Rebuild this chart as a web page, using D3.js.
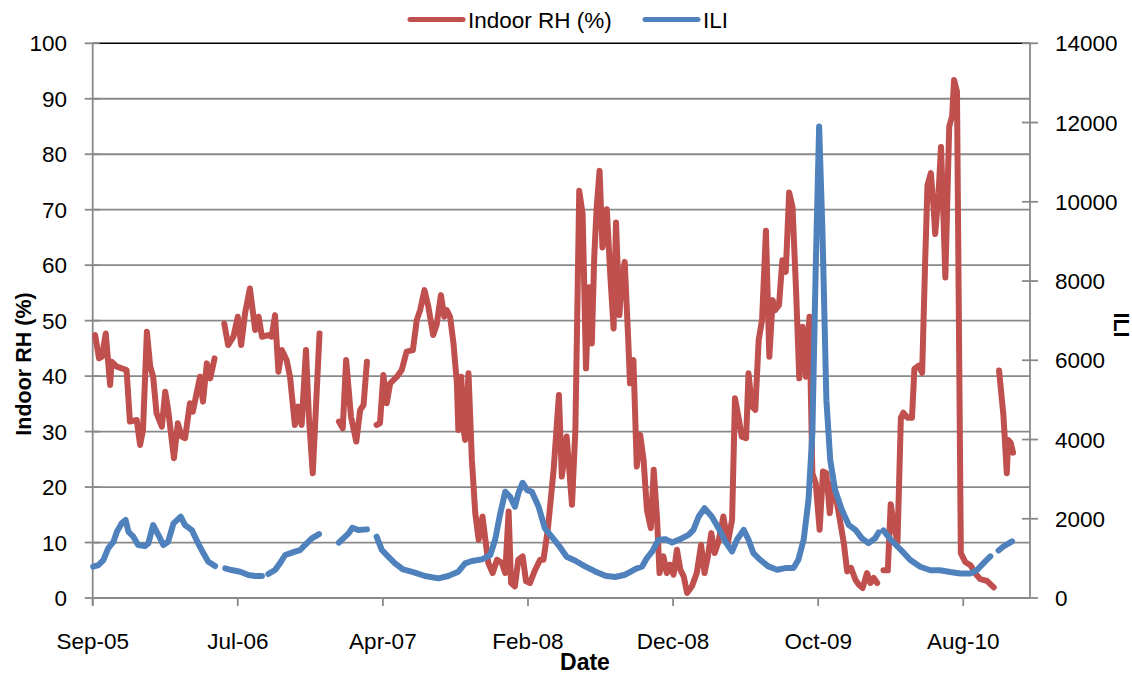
<!DOCTYPE html>
<html>
<head>
<meta charset="utf-8">
<script src="https://cdn.jsdelivr.net/npm/d3@7"></script>
<style>
  html, body { margin: 0; padding: 0; background: #fff; }
  svg { display: block; font-family: "Liberation Sans", Arial, sans-serif; }
</style>
</head>
<body>
<svg id="chart" width="1132" height="674"></svg>
<script>
// Weekly indoor relative humidity (%), null marks missing weeks
const indoorRH = [
  ["2005-09-09",47.4],["2005-09-17",43.2],["2005-09-23",43.5],["2005-10-01",47.7],["2005-10-10",38.4],
  ["2005-10-13",42.6],["2005-10-24",41.7],["2005-11-03",41.4],["2005-11-13",41.1],["2005-11-20",31.8],
  ["2005-12-04",32.1],["2005-12-11",27.6],["2005-12-17",30.3],["2005-12-25",48.0],["2006-01-01",41.7],
  ["2006-01-07",39.9],["2006-01-14",33.3],["2006-01-25",30.9],["2006-02-01",37.2],["2006-02-07",33.9],
  ["2006-02-19",25.2],["2006-02-27",31.5],["2006-03-07",29.1],["2006-03-14",28.8],["2006-03-24",35.1],
  ["2006-03-30",33.6],["2006-04-14",39.9],["2006-04-20",35.4],["2006-04-28",42.3],["2006-05-05",39.6],
  ["2006-05-14",43.2],["2006-05-24",null],["2006-06-03",49.5],["2006-06-11",45.6],["2006-06-22",47.1],
  ["2006-07-01",50.7],["2006-07-08",45.6],["2006-07-16",51.3],["2006-07-26",55.8],["2006-08-06",48.3],
  ["2006-08-13",50.7],["2006-08-20",47.1],["2006-09-02",47.4],["2006-09-09",47.1],["2006-09-16",51.0],
  ["2006-09-23",40.8],["2006-09-30",44.7],["2006-10-10",42.9],["2006-10-17",39.9],["2006-10-27",31.2],
  ["2006-11-03",34.5],["2006-11-10",31.2],["2006-11-19",44.7],["2006-11-25",32.7],["2006-12-03",22.5],
  ["2006-12-10",35.1],["2006-12-17",47.7],["2007-01-06",null],["2007-01-26",31.8],["2007-02-03",30.6],
  ["2007-02-10",42.9],["2007-02-20",32.7],["2007-03-03",28.2],["2007-03-11",33.9],["2007-03-18",34.8],
  ["2007-03-25",42.6],["2007-04-04",null],["2007-04-14",31.2],["2007-04-21",31.5],["2007-04-28",40.2],
  ["2007-05-05",35.1],["2007-05-12",38.7],["2007-05-26",39.9],["2007-06-05",41.1],["2007-06-15",44.4],
  ["2007-06-28",44.7],["2007-07-06",50.1],["2007-07-13",51.9],["2007-07-22",55.5],["2007-07-30",52.5],
  ["2007-08-09",47.4],["2007-08-16",49.2],["2007-08-25",54.6],["2007-09-01",50.7],["2007-09-06",51.9],
  ["2007-09-13",50.7],["2007-09-20",45.9],["2007-09-27",38.7],["2007-09-30",30.3],["2007-10-06",39.9],
  ["2007-10-11",30.3],["2007-10-14",28.5],["2007-10-21",40.5],["2007-10-28",24.9],["2007-11-04",15.3],
  ["2007-11-11",10.5],["2007-11-19",14.7],["2007-11-24",11.1],["2007-12-01",6.3],["2007-12-10",4.5],
  ["2007-12-19",6.9],["2007-12-29",6.3],["2008-01-05",4.5],["2008-01-12",15.6],["2008-01-17",2.7],
  ["2008-01-25",2.1],["2008-02-01",6.9],["2008-02-10",7.5],["2008-02-17",3.0],["2008-02-25",2.7],
  ["2008-03-07",5.1],["2008-03-17",6.9],["2008-03-24",6.9],["2008-04-02",12.3],["2008-04-14",23.1],
  ["2008-04-25",36.6],["2008-05-01",21.9],["2008-05-11",29.1],["2008-05-22",16.8],["2008-05-29",30.3],
  ["2008-06-06",73.4],["2008-06-13",69.2],["2008-06-20",41.4],["2008-06-26",56.0],["2008-07-02",45.9],
  ["2008-07-07",61.5],["2008-07-12",70.4],["2008-07-18",77.0],["2008-07-24",63.2],["2008-08-02",70.1],
  ["2008-08-09",58.5],["2008-08-16",48.6],["2008-08-21",67.7],["2008-08-28",51.0],["2008-09-01",56.7],
  ["2008-09-08",60.6],["2008-09-15",47.1],["2008-09-19",38.7],["2008-09-26",42.9],["2008-10-03",23.7],
  ["2008-10-10",29.4],["2008-10-17",24.9],["2008-10-24",15.9],["2008-11-01",12.6],["2008-11-07",23.1],
  ["2008-11-14",14.1],["2008-11-19",4.5],["2008-11-27",7.5],["2008-12-04",4.5],["2008-12-11",6.0],
  ["2008-12-18",4.2],["2008-12-25",8.7],["2009-01-01",5.1],["2009-01-08",3.9],["2009-01-15",0.9],
  ["2009-01-25",2.1],["2009-02-04",4.5],["2009-02-13",9.6],["2009-02-20",4.5],["2009-02-27",7.5],
  ["2009-03-06",11.7],["2009-03-13",8.1],["2009-03-21",10.2],["2009-03-31",14.7],["2009-04-09",9.9],
  ["2009-04-18",14.1],["2009-04-24",36.0],["2009-05-01",32.7],["2009-05-08",29.1],["2009-05-17",28.8],
  ["2009-05-22",40.5],["2009-05-29",34.5],["2009-06-05",33.9],["2009-06-12",46.5],["2009-06-19",50.1],
  ["2009-06-27",66.2],["2009-07-04",43.5],["2009-07-11",53.7],["2009-07-16",51.9],["2009-07-24",52.8],
  ["2009-07-31",60.9],["2009-08-07",58.8],["2009-08-14",73.1],["2009-08-21",70.4],["2009-08-28",56.1],
  ["2009-09-04",39.6],["2009-09-11",48.9],["2009-09-18",39.9],["2009-09-25",50.7],["2009-10-01",22.5],
  ["2009-10-08",20.7],["2009-10-16",12.3],["2009-10-23",22.8],["2009-10-30",22.5],["2009-11-06",15.3],
  ["2009-11-12",20.7],["2009-11-21",17.1],["2009-11-28",13.5],["2009-12-05",9.9],["2009-12-12",4.8],
  ["2009-12-20",5.4],["2009-12-29",3.3],["2010-01-05",2.4],["2010-01-13",1.8],["2010-01-22",4.5],
  ["2010-01-29",2.7],["2010-02-05",3.6],["2010-02-12",2.7],["2010-02-19",null],["2010-02-25",5.0],
  ["2010-03-06",5.0],["2010-03-12",16.9],["2010-03-19",13.1],["2010-03-26",10.0],["2010-04-02",32.5],
  ["2010-04-07",33.4],["2010-04-16",32.5],["2010-04-25",32.5],["2010-04-30",41.3],["2010-05-09",41.9],
  ["2010-05-16",40.6],["2010-05-22",60.0],["2010-05-27",74.4],["2010-06-03",76.6],["2010-06-09",70.0],
  ["2010-06-12",65.6],["2010-06-19",73.1],["2010-06-24",81.3],["2010-06-29",68.8],["2010-07-03",57.8],
  ["2010-07-08",75.0],["2010-07-11",85.0],["2010-07-17",86.9],["2010-07-21",93.4],["2010-07-27",91.3],
  ["2010-08-04",8.1],["2010-08-13",6.5],["2010-08-24",5.9],["2010-09-03",4.4],["2010-09-13",3.4],
  ["2010-09-27",3.1],["2010-10-11",1.9],["2010-10-16",null],["2010-10-22",41.0],["2010-10-31",33.0],
  ["2010-11-07",22.5],["2010-11-10",28.5],["2010-11-15",28.0],["2010-11-20",26.2]
];

// Weekly influenza-like illness counts, null marks missing weeks
const ili = [
  ["2005-09-05",790],["2005-09-16",832],["2005-09-26",958],["2005-10-06",1253],["2005-10-17",1420],
  ["2005-10-24",1672],["2005-11-03",1884],["2005-11-11",1968],["2005-11-17",1672],["2005-11-27",1547],
  ["2005-12-07",1337],["2005-12-21",1312],["2005-12-28",1379],["2006-01-07",1841],["2006-01-18",1589],
  ["2006-01-28",1337],["2006-02-07",1420],["2006-02-18",1884],["2006-03-05",2051],["2006-03-14",1841],
  ["2006-03-28",1715],["2006-04-10",1379],["2006-04-21",1127],["2006-05-01",916],["2006-05-15",806],
  ["2006-05-25",null],["2006-06-05",748],["2006-06-18",706],["2006-07-06",664],["2006-07-23",580],
  ["2006-08-06",555],["2006-08-20",555],["2006-08-27",null],["2006-09-02",605],["2006-09-16",706],
  ["2006-09-26",874],["2006-10-07",1085],["2006-10-17",1127],["2006-10-27",1169],["2006-11-07",1211],
  ["2006-11-17",1337],["2006-12-01",1505],["2006-12-16",1614],["2007-01-06",null],["2007-01-26",1396],
  ["2007-02-04",1505],["2007-02-15",1631],["2007-02-23",1774],["2007-03-07",1715],["2007-03-25",1732],
  ["2007-04-04",null],["2007-04-14",1547],["2007-04-25",1211],["2007-05-08",1043],["2007-05-22",874],
  ["2007-06-08",720],["2007-07-02",639],["2007-07-23",555],["2007-08-20",496],["2007-09-09",555],
  ["2007-09-30",664],["2007-10-14",874],["2007-10-28",933],["2007-11-18",975],["2007-12-05",1085],
  ["2007-12-15",1463],["2007-12-25",2094],["2008-01-05",2682],["2008-01-15",2556],["2008-01-25",2303],
  ["2008-02-01",2640],["2008-02-10",2909],["2008-02-19",2724],["2008-02-29",2682],["2008-03-14",2303],
  ["2008-03-27",1757],["2008-04-10",1547],["2008-04-24",1337],["2008-05-11",1043],["2008-05-29",940],
  ["2008-06-18",797],["2008-07-09",671],["2008-07-30",562],["2008-08-19",529],["2008-09-09",588],
  ["2008-09-30",730],["2008-10-14",797],["2008-10-24",1007],["2008-11-04",1175],["2008-11-17",1469],
  ["2008-12-01",1486],["2008-12-15",1402],["2009-01-01",1486],["2009-01-18",1595],["2009-01-28",1721],
  ["2009-02-08",2057],["2009-02-20",2266],["2009-03-07",2057],["2009-03-21",1763],["2009-04-04",1427],
  ["2009-04-18",1175],["2009-04-28",1469],["2009-05-12",1721],["2009-05-22",1469],["2009-06-01",1133],
  ["2009-06-15",965],["2009-07-02",797],["2009-07-20",713],["2009-08-06",755],["2009-08-23",755],
  ["2009-09-02",965],["2009-09-13",1469],["2009-09-23",2476],["2009-10-01",4154],["2009-10-08",8352],
  ["2009-10-15",11900],["2009-10-22",9191],["2009-10-30",4993],["2009-11-07",3482],["2009-11-17",2727],
  ["2009-12-01",2224],["2009-12-15",1847],["2009-12-29",1721],["2010-01-11",1511],["2010-01-25",1385],
  ["2010-02-08",1511],["2010-02-15",1653],["2010-02-20",null],["2010-02-25",1706],["2010-03-11",1488],
  ["2010-03-25",1313],["2010-04-08",1138],["2010-04-21",963],["2010-05-12",788],["2010-06-02",700],
  ["2010-06-22",700],["2010-07-13",656],["2010-08-03",620],["2010-08-24",620],["2010-09-06",700],
  ["2010-09-23",919],["2010-10-04",1050],["2010-10-12",null],["2010-10-21",1200],["2010-10-31",1300],
  ["2010-11-18",1430]
];

// Axis settings
const dateRange = ["2005-09-04", "2010-12-25"];
const tickStepDays = 300;
const rhTicks = [0, 10, 20, 30, 40, 50, 60, 70, 80, 90, 100];
const iliTicks = [0, 2000, 4000, 6000, 8000, 10000, 12000, 14000];
const seriesNames = ["Indoor RH (%)", "ILI"];
const seriesColors = ["#C0504D", "#4F81BD"];

const parse = d3.utcParse("%Y-%m-%d");
const fmt = d3.utcFormat("%b-%y");

const svg = d3.select("#chart");
const W = 1132, H = 674;
const plot = { left: 92.7, right: 1030, top: 43.3, bottom: 598 };
const fontSize = 22.5;
const capOffset = fontSize * 0.358;
const gridColor = "#898989";

svg.append("rect").attr("width", W).attr("height", H).attr("fill", "#fff");

const x = d3.scaleUtc()
  .domain(dateRange.map(parse))
  .range([plot.left, plot.right]);
const yRH = d3.scaleLinear().domain([0, 100]).range([plot.bottom, plot.top]);
const yILI = d3.scaleLinear().domain([0, 14000]).range([plot.bottom, plot.top]);

const xTicks = d3.range(0, 7).map(i => d3.utcDay.offset(parse(dateRange[0]), i * tickStepDays));

// Horizontal gridlines
svg.append("g").selectAll("line")
  .data(rhTicks.filter(t => t > 0 && t < 100))
  .join("line")
  .attr("x1", plot.left).attr("x2", plot.right)
  .attr("y1", d => yRH(d)).attr("y2", d => yRH(d))
  .attr("stroke", gridColor).attr("stroke-width", 1.8);

// Top border
svg.append("line")
  .attr("x1", plot.left).attr("x2", plot.right)
  .attr("y1", yRH(100)).attr("y2", yRH(100))
  .attr("stroke", "#000").attr("stroke-width", 1.6);

// Left axis
const gL = svg.append("g");
gL.append("line").attr("x1", plot.left).attr("x2", plot.left)
  .attr("y1", plot.top).attr("y2", plot.bottom + 7)
  .attr("stroke", gridColor).attr("stroke-width", 1.8);
gL.selectAll(".t").data(rhTicks).join("line")
  .attr("x1", plot.left - 8).attr("x2", plot.left + 7)
  .attr("y1", d => yRH(d)).attr("y2", d => yRH(d))
  .attr("stroke", gridColor).attr("stroke-width", 1.8);
gL.selectAll("text").data(rhTicks).join("text")
  .attr("x", 67).attr("y", d => yRH(d) + capOffset)
  .attr("text-anchor", "end").attr("font-size", fontSize).attr("fill", "#000")
  .text(d => d);

// Right axis
const gR = svg.append("g");
gR.append("line").attr("x1", plot.right).attr("x2", plot.right)
  .attr("y1", plot.top).attr("y2", plot.bottom)
  .attr("stroke", gridColor).attr("stroke-width", 1.8);
gR.selectAll(".t").data(iliTicks).join("line")
  .attr("x1", plot.right - 8).attr("x2", plot.right + 8)
  .attr("y1", d => yILI(d)).attr("y2", d => yILI(d))
  .attr("stroke", gridColor).attr("stroke-width", 1.8);
gR.selectAll("text").data(iliTicks).join("text")
  .attr("x", 1055).attr("y", d => yILI(d) + capOffset)
  .attr("text-anchor", "start").attr("font-size", fontSize).attr("fill", "#000")
  .text(d => d);

// Bottom axis
const gB = svg.append("g");
gB.append("line").attr("x1", plot.left).attr("x2", plot.right)
  .attr("y1", plot.bottom).attr("y2", plot.bottom)
  .attr("stroke", gridColor).attr("stroke-width", 1.8);
gB.selectAll(".t").data(xTicks).join("line")
  .attr("x1", d => x(d)).attr("x2", d => x(d))
  .attr("y1", plot.bottom).attr("y2", plot.bottom + 8)
  .attr("stroke", gridColor).attr("stroke-width", 1.8);
gB.selectAll("text").data(xTicks).join("text")
  .attr("x", d => x(d)).attr("y", 649)
  .attr("text-anchor", "middle").attr("font-size", fontSize).attr("fill", "#000")
  .text(d => fmt(d));

// Axis titles
svg.append("text")
  .attr("transform", "translate(31,364) rotate(-90)")
  .attr("text-anchor", "middle").attr("font-size", 21.5).attr("font-weight", "bold")
  .text("Indoor RH (%)");
svg.append("text")
  .attr("transform", "translate(1114,325) rotate(90)")
  .attr("text-anchor", "middle").attr("font-size", 21.5).attr("font-weight", "bold")
  .text("ILI");
svg.append("text")
  .attr("x", 585).attr("y", 670)
  .attr("text-anchor", "middle").attr("font-size", 23).attr("font-weight", "bold")
  .text("Date");

// Series lines
function drawSeries(data, yScale, color) {
  const line = d3.line()
    .defined(d => d[1] !== null)
    .x(d => x(parse(d[0])))
    .y(d => yScale(d[1]));
  svg.append("path")
    .datum(data)
    .attr("d", line)
    .attr("fill", "none")
    .attr("stroke", color)
    .attr("stroke-width", 6)
    .attr("stroke-linejoin", "round")
    .attr("stroke-linecap", "round");
}
drawSeries(indoorRH, yRH, seriesColors[0]);
drawSeries(ili, yILI, seriesColors[1]);

// Legend
const legend = [
  { name: seriesNames[0], color: seriesColors[0], x0: 410, x1: 463, tx: 468 },
  { name: seriesNames[1], color: seriesColors[1], x0: 645, x1: 698, tx: 703 }
];
const gLeg = svg.append("g");
legend.forEach(l => {
  gLeg.append("line")
    .attr("x1", l.x0).attr("x2", l.x1).attr("y1", 19.5).attr("y2", 19.5)
    .attr("stroke", l.color).attr("stroke-width", 5).attr("stroke-linecap", "round");
  gLeg.append("text")
    .attr("x", l.tx).attr("y", 19.5 + capOffset)
    .attr("font-size", fontSize).attr("fill", "#000")
    .text(l.name);
});
</script>
</body>
</html>
